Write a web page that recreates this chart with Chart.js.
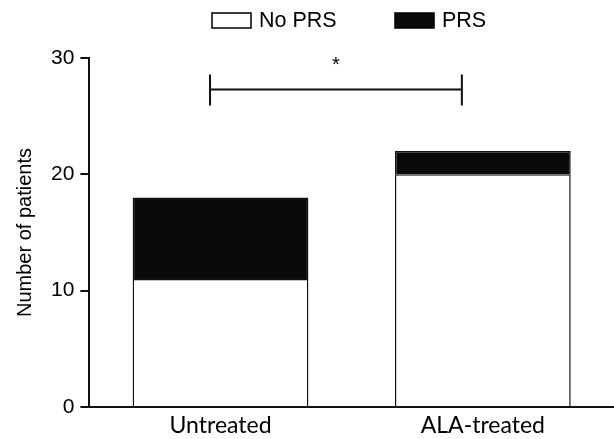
<!DOCTYPE html>
<html>
<head>
<meta charset="utf-8">
<script src="https://cdn.jsdelivr.net/npm/chart.js@4.4.1/dist/chart.umd.min.js"></script>
<style>
  html, body { margin: 0; padding: 0; background: #fff; }
  #wrap { width: 614px; height: 439px; }
</style>
</head>
<body>
<div id="wrap"><canvas id="patients" width="614" height="439"></canvas></div>
<script>
const groups = ["Untreated", "ALA-treated"];
const noPrs = [11, 20];
const prs = [7, 2];
const yTicks = [0, 10, 20, 30];
// significance bracket, in data units (category index / patients)
const bracket = { from: -0.04, to: 0.92, level: 27.3, label: "*" };

const ctx = document.getElementById("patients").getContext("2d");

const topLegend = {
  id: "topLegend",
  afterDraw(chart) {
    const c = chart.ctx;
    const ds = chart.data.datasets;
    const spots = [212, 395];
    c.save();
    c.font = "21.5px 'Liberation Sans', Arial, sans-serif";
    c.textBaseline = "middle";
    ds.forEach((d, i) => {
      const x = spots[i];
      c.fillStyle = d.backgroundColor;
      c.fillRect(x, 13, 39, 15);
      c.lineWidth = 1.5;
      c.strokeStyle = "#000";
      c.strokeRect(x, 13, 39, 15);
      c.fillStyle = "#000";
      c.fillText(d.label, x + 47, 21);
    });
    c.restore();
  },
};

const sigBracket = {
  id: "sigBracket",
  afterDatasetsDraw(chart) {
    const { ctx: c, scales: { x, y } } = chart;
    const x1 = x.getPixelForValue(bracket.from);
    const x2 = x.getPixelForValue(bracket.to);
    const yy = y.getPixelForValue(bracket.level);
    c.save();
    c.strokeStyle = "#111";
    c.lineWidth = 2;
    c.beginPath();
    c.moveTo(x1, yy - 15);
    c.lineTo(x1, yy + 16);
    c.moveTo(x1, yy);
    c.lineTo(x2, yy);
    c.moveTo(x2, yy - 15);
    c.lineTo(x2, yy + 16);
    c.stroke();
    c.fillStyle = "#000";
    c.font = "20px 'Liberation Sans', Arial, sans-serif";
    c.textAlign = "center";
    c.textBaseline = "middle";
    c.fillText(bracket.label, (x1 + x2) / 2, yy - 24);
    c.restore();
  },
};

const patientsChart = new Chart(ctx, {
  type: "bar",
  data: {
    labels: groups,
    datasets: [
      {
        label: "No PRS",
        data: noPrs,
        backgroundColor: "#ffffff",
        borderColor: "#111111",
        borderWidth: 1.5,
        barPercentage: 0.67,
        categoryPercentage: 1,
      },
      {
        label: "PRS",
        data: prs,
        backgroundColor: "#0a0a0a",
        borderColor: "#111111",
        borderWidth: 1.5,
        barPercentage: 0.67,
        categoryPercentage: 1,
      },
    ],
  },
  options: {
    responsive: false,
    animation: false,
    layout: { padding: { top: 58, left: 13, right: 0, bottom: -5 } },
    plugins: {
      legend: { display: false },
      tooltip: { enabled: false },
    },
    scales: {
      x: {
        stacked: true,
        grid: { display: false, drawTicks: false, tickLength: 0 },
        border: { display: true, color: "#111", width: 2 },
        ticks: {
          color: "#000",
          padding: 7,
          font: { family: "Lato, 'Open Sans', sans-serif", size: 23, lineHeight: 1 },
        },
      },
      y: {
        stacked: true,
        min: 0,
        max: 30,
        afterBuildTicks: (scale) => {
          scale.ticks = yTicks.map((v) => ({ value: v }));
        },
        grid: {
          drawOnChartArea: false,
          tickLength: 9,
          color: "#111",
          lineWidth: 2,
        },
        border: { display: true, color: "#111", width: 2 },
        ticks: {
          color: "#000",
          padding: 6,
          font: { family: "'Liberation Sans', Arial, sans-serif", size: 21 },
        },
        title: {
          display: true,
          text: "Number of patients",
          color: "#000",
          padding: { top: 0, bottom: 8 },
          font: { family: "'Liberation Sans', Arial, sans-serif", size: 20 },
        },
      },
    },
  },
  plugins: [topLegend, sigBracket],
});
</script>
</body>
</html>
